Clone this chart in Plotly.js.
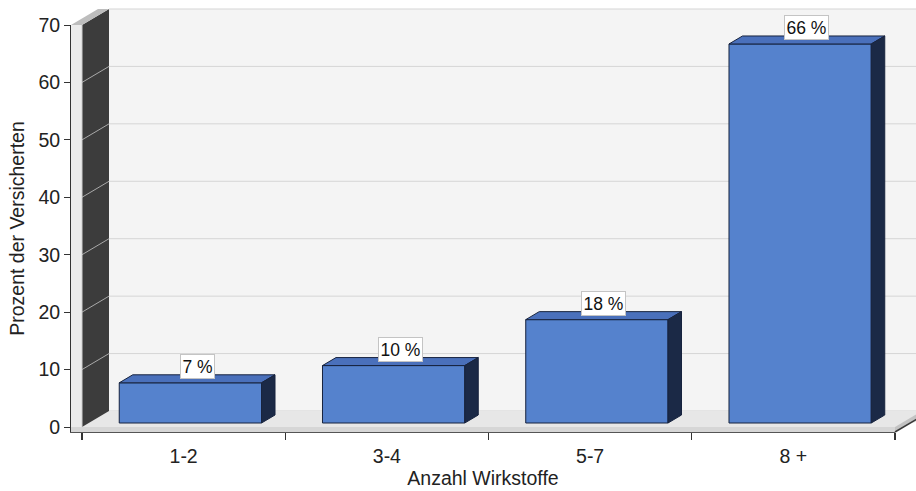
<!DOCTYPE html>
<html>
<head>
<meta charset="utf-8">
<script src="https://cdn.plot.ly/plotly-3.0.1.min.js"></script>
<style>
  html, body { margin: 0; padding: 0; background: #ffffff; }
  #chart { width: 916px; height: 491px; }
</style>
</head>
<body>
<div id="chart"></div>
<script>
// Anteil der Versicherten nach Anzahl verordneter Wirkstoffe
const categories = ['1-2', '3-4', '5-7', '8 +'];
const shares = [7, 10, 18, 66];
const yTickValues = [0, 10, 20, 30, 40, 50, 60, 70];
const xTitle = 'Anzahl Wirkstoffe';
const yTitle = 'Prozent der Versicherten';

// ---- frame geometry (pixels) ----
const W = 916, H = 491;
const M = { l: 71, r: 21, t: 25, b: 59 };
const plotW = W - M.l - M.r;
const plotH = H - M.t - M.b;
const WALL_PX = 11;            // thickness of the left wall
const FLOOR_PX = 5;            // height of the floor front face
const DEPTH_PX = { x: 27, y: 16 }; // oblique offset of the full scene depth

const yMax = yTickValues[yTickValues.length - 1];
const pxPerCat = (plotW - WALL_PX) / categories.length;
const pxPerUnit = (plotH - FLOOR_PX) / yMax;
const xHi = categories.length - 0.5;
const xLo = -0.5 - WALL_PX / pxPerCat;
const yLo = -FLOOR_PX / pxPerUnit;

// depth offsets expressed in axis units
const dxFull = DEPTH_PX.x / pxPerCat;
const dyFull = DEPTH_PX.y / pxPerUnit;
const BAR_W = 0.7;
const FRONT_DX = 0.25 * dxFull, FRONT_DY = 0.25 * dyFull; // bar front plane
const BAR_DX = 0.5 * dxFull, BAR_DY = 0.5 * dyFull;       // bar depth

// projection of (x, y, depth) into paper coordinates for the scene decoration
function px(x, d) { return (x - xLo) / (xHi - xLo) + d * DEPTH_PX.x / plotW; }
function py(y, d) { return (y - yLo) / (yMax - yLo) + d * DEPTH_PX.y / plotH; }
function poly(pts) {
  return pts.map((p, k) => (k ? 'L' : 'M') + px(p[0], p[2]).toFixed(5) + ',' + py(p[1], p[2]).toFixed(5)).join(' ') + ' Z';
}
function face(pts, fill) {
  return { type: 'path', xref: 'paper', yref: 'paper', layer: 'below',
           path: poly(pts), fillcolor: fill, line: { width: 0 } };
}
function edge(a, b, color, width) {
  return { type: 'line', xref: 'paper', yref: 'paper', layer: 'below',
           x0: px(a[0], a[2]), y0: py(a[1], a[2]), x1: px(b[0], b[2]), y1: py(b[1], b[2]),
           line: { color: color, width: width || 1 } };
}

const shapes = [];
const xFar = xHi + 0.3;
// back wall with its grid
shapes.push(face([[-0.5, 0, 1], [xFar, 0, 1], [xFar, yMax, 1], [-0.5, yMax, 1]], '#f4f4f4'));
yTickValues.forEach(t => shapes.push(edge([-0.5, t, 1], [xFar, t, 1], '#d5d5d5', 1)));
// floor: top surface, front face, right side
shapes.push(face([[xLo, 0, 0], [xHi, 0, 0], [xHi + 0.2, 0, 1], [xLo, 0, 1]], '#e7e7e7'));
shapes.push(face([[xLo, yLo, 0], [xHi, yLo, 0], [xHi, 0, 0], [xLo, 0, 0]], '#d6d6d6'));
shapes.push(face([[xHi, yLo, 0], [xHi, yLo, 1], [xHi, 0, 1], [xHi, 0, 0]], '#c3c3c3'));
shapes.push(edge([xHi, yLo, 0], [xHi, yLo, 1], '#3a3a3a', 1.5));
// left wall: inner dark side, grid, front face and top cap
shapes.push(face([[-0.5, 0, 0], [-0.5, 0, 1], [-0.5, yMax, 1], [-0.5, yMax, 0]], '#3c3c3c'));
yTickValues.filter(t => t > 0 && t < yMax)
  .forEach(t => shapes.push(edge([-0.5, t, 0], [-0.5, t, 1], '#a9a9a9', 1)));
shapes.push(face([[xLo, 0, 0], [-0.5, 0, 0], [-0.5, yMax, 0], [xLo, yMax, 0]], '#ebebeb'));
shapes.push(edge([-0.5, 0, 0], [-0.5, yMax, 0], '#cfcfcf', 1));
shapes.push(face([[xLo, yMax, 0], [-0.5, yMax, 0], [-0.5, yMax, 1], [xLo, yMax, 1]], '#bdbdbd'));

// ---- bars: front faces as a bar trace, top and side faces as filled outlines ----
const idx = categories.map((_, i) => i);
const traces = [{
  type: 'bar', x: idx, y: shares, base: FRONT_DY, width: BAR_W,
  offset: -BAR_W / 2 + FRONT_DX,
  marker: { color: '#5582cd', line: { color: '#17233e', width: 1 } },
  hoverinfo: 'skip', showlegend: false
}];
shares.forEach((v, i) => {
  const x0 = i - BAR_W / 2 + FRONT_DX, x1 = x0 + BAR_W;
  const y0 = FRONT_DY, y1 = FRONT_DY + v;
  traces.push({
    type: 'scatter', mode: 'lines', fill: 'toself', fillcolor: '#4a70bb',
    x: [x0, x1, x1 + BAR_DX, x0 + BAR_DX, x0],
    y: [y1, y1, y1 + BAR_DY, y1 + BAR_DY, y1],
    line: { color: '#17233e', width: 1 }, hoverinfo: 'skip', showlegend: false
  });
  traces.push({
    type: 'scatter', mode: 'lines', fill: 'toself', fillcolor: '#1b2946',
    x: [x1, x1 + BAR_DX, x1 + BAR_DX, x1, x1],
    y: [y0, y0 + BAR_DY, y1 + BAR_DY, y1, y0],
    line: { color: '#17233e', width: 1 }, hoverinfo: 'skip', showlegend: false
  });
});

// value labels sitting on the bar tops
const annotations = shares.map((v, i) => ({
  x: i + FRONT_DX + BAR_DX / 2, y: FRONT_DY + v + BAR_DY,
  xref: 'x', yref: 'y', yanchor: 'bottom', yshift: -4,
  text: v + ' %', showarrow: false,
  font: { family: 'Liberation Sans, Arial, sans-serif', size: 17.5, color: '#111111' },
  bgcolor: '#ffffff', bordercolor: '#c4c4c4', borderwidth: 1, borderpad: 1.5
}));

const font = { family: 'Liberation Sans, Arial, sans-serif', size: 19.5, color: '#222222' };
const layout = {
  width: W, height: H,
  margin: M,
  paper_bgcolor: '#ffffff', plot_bgcolor: 'rgba(0,0,0,0)',
  showlegend: false, hovermode: false,
  font: font,
  xaxis: {
    range: [xLo, xHi], fixedrange: true,
    tickmode: 'array', tickvals: idx, ticktext: categories,
    ticks: 'outside', ticklen: 7, tickcolor: 'rgba(0,0,0,0)',
    minor: { tickmode: 'linear', tick0: -0.5, dtick: 1, ticks: 'outside', ticklen: 7, tickcolor: '#333333', tickwidth: 1.2, showgrid: false },
    showgrid: false, zeroline: false,
    showline: true, linecolor: '#555555', linewidth: 1,
    tickfont: font,
    title: { text: xTitle, font: font, standoff: 4 }
  },
  yaxis: {
    range: [yLo, yMax], fixedrange: true,
    tickmode: 'array', tickvals: yTickValues,
    ticks: 'outside', ticklen: 6, tickcolor: '#333333', tickwidth: 1,
    showgrid: false, zeroline: false,
    showline: true, linecolor: '#333333', linewidth: 1,
    tickfont: font,
    title: { text: yTitle, font: font, standoff: 8 }
  },
  shapes: shapes,
  annotations: annotations
};

Plotly.newPlot('chart', traces, layout, { staticPlot: true, displayModeBar: false });
</script>
</body>
</html>
